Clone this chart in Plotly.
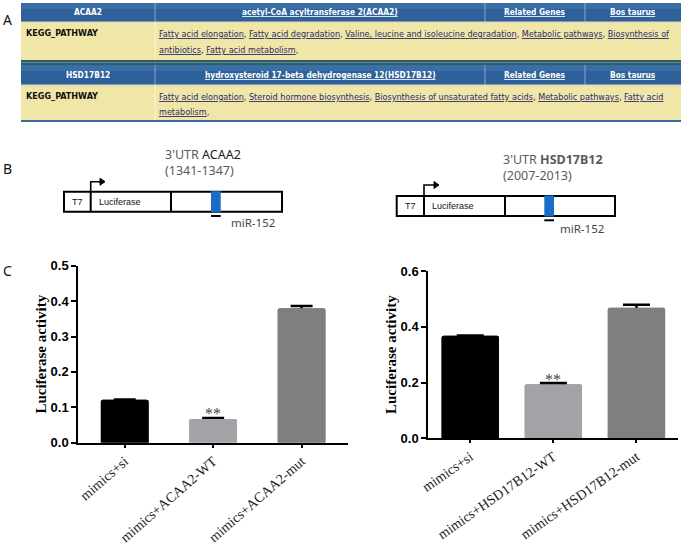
import plotly.graph_objects as go

W, H = 685, 544

# ---------------- data ----------------
acaa2_categories = ["mimics+si", "mimics+ACAA2-WT", "mimics+ACAA2-mut"]
acaa2_values = [0.121, 0.067, 0.380]
acaa2_errors = [0.001, 0.003, 0.006]

hsd_categories = ["mimics+si", "mimics+HSD17B12-WT", "mimics+HSD17B12-mut"]
hsd_values = [0.368, 0.194, 0.468]
hsd_errors = [0.001, 0.004, 0.011]

bar_colors = ["#000000", "#a3a3a7", "#7f7f7f"]
significance_label = "**"
y_title = "Luciferase activity"

gene_symbols = ["ACAA2", "HSD17B12"]
gene_names = ["acetyl-CoA acyltransferase 2(ACAA2)",
              "hydroxysteroid 17-beta dehydrogenase 12(HSD17B12)"]
header_links = ["Related Genes", "Bos taurus"]
row_label = "KEGG_PATHWAY"
acaa2_pathway_lines = [
    ["Fatty acid elongation", "Fatty acid degradation",
     "Valine, leucine and isoleucine degradation", "Metabolic pathways",
     "Biosynthesis of"],
    ["antibiotics", "Fatty acid metabolism"],
]
hsd_pathway_lines = [
    ["Fatty acid elongation", "Steroid hormone biosynthesis",
     "Biosynthesis of unsaturated fatty acids", "Metabolic pathways",
     "Fatty acid"],
    ["metabolism"],
]
utr_genes = ["ACAA2", "HSD17B12"]
utr_sites = ["(1341-1347)", "(2007-2013)"]
construct_parts = ["T7", "Luciferase"]
mirna = "miR-152"
panel_letters = ["A", "B", "C"]


def px(x):
    return x / W


def py(y):
    return 1 - y / H


NARROW = "Liberation Sans Narrow, DejaVu Sans Condensed, Arial Narrow, sans-serif"
SANS = "Noto Sans, Open Sans, sans-serif"
SERIF = "Liberation Serif, Times New Roman, serif"

fig = go.Figure()

# ---------------- bar charts ----------------
for i, (cats, vals, errs, capw) in enumerate([
        (acaa2_categories, acaa2_values, acaa2_errors, 11),
        (hsd_categories, hsd_values, hsd_errors, 13.5)]):
    xa = "x" if i == 0 else "x2"
    ya = "y" if i == 0 else "y2"
    width = 0.54 if i == 0 else 0.69
    fig.add_trace(go.Bar(
        x=cats, y=vals, xaxis=xa, yaxis=ya, width=width,
        marker=dict(color=bar_colors, line=dict(width=0), cornerradius=2),
        error_y=dict(type="data", array=errs, symmetric=True,
                     color="#000000", thickness=2.5, width=capw),
        showlegend=False, hoverinfo="x+y"))
    fig.add_trace(go.Bar(
        x=cats, y=vals, xaxis=xa, yaxis=ya, width=width,
        marker=dict(color=bar_colors, line=dict(width=0), cornerradius=2),
        showlegend=False, hoverinfo="skip"))
    fig.add_annotation(
        x=cats[1], y=vals[1] + errs[1], xref=xa, yref=ya,
        text=significance_label, showarrow=False, yanchor="middle", yshift=4,
        font=dict(family=SERIF, size=16, color="#444444"))

axis_common = dict(showline=True, linecolor="#000000", linewidth=2,
                   ticks="outside", tickcolor="#000000", tickwidth=2,
                   showgrid=False, zeroline=False, automargin=False,
                   fixedrange=True)
xfont = dict(family=SERIF, size=14, color="#222222")
yfont = dict(family="Liberation Sans, Arial, sans-serif", size=13,
             color="#000000", weight="bold")
tfont = dict(family=SERIF, size=15, color="#000000", weight="bold")

fig.update_layout(
    xaxis=dict(domain=[px(78.3), px(348)], anchor="y", type="category",
               range=[-0.525, 2.525], ticklen=3, tickangle=-41,
               tickfont=xfont, **axis_common),
    yaxis=dict(domain=[py(442.7), py(265.7)], anchor="x", range=[0, 0.5],
               tick0=0, dtick=0.1, tickformat=".1f", ticklen=5,
               tickfont=yfont,
               title=dict(text=y_title, standoff=0, font=tfont),
               **axis_common),
    xaxis2=dict(domain=[px(428.3), px(678)], anchor="y2", type="category",
                range=[-0.505, 2.5], ticklen=3, tickangle=-35,
                tickfont=xfont, **axis_common),
    yaxis2=dict(domain=[py(438.3), py(271)], anchor="x2", range=[0, 0.6],
                tick0=0, dtick=0.2, tickformat=".1f", ticklen=5,
                tickfont=yfont,
                title=dict(text=y_title, standoff=0, font=tfont),
                **axis_common),
    barmode="overlay",
)

shapes = []
annos = []


def rect(x0, y0, x1, y1, fill, line_color=None, lw=0):
    shapes.append(dict(type="rect", xref="paper", yref="paper",
                       x0=px(x0), x1=px(x1), y0=py(y0), y1=py(y1),
                       fillcolor=fill, layer="above",
                       line=dict(color=line_color or fill, width=lw)))


def line(x0, y0, x1, y1, color, lw):
    shapes.append(dict(type="line", xref="paper", yref="paper",
                       x0=px(x0), x1=px(x1), y0=py(y0), y1=py(y1),
                       layer="above", line=dict(color=color, width=lw)))


def path(pts, color, lw, fill=None):
    d = "M " + " L ".join(f"{px(x)},{py(y)}" for x, y in pts)
    if fill:
        d += " Z"
    shapes.append(dict(type="path", xref="paper", yref="paper", path=d,
                       layer="above", fillcolor=fill or "rgba(0,0,0,0)",
                       line=dict(color=color, width=lw)))


def text(x, y, s, size, color, family, xanchor="left", yanchor="middle"):
    annos.append(dict(x=px(x), y=py(y), xref="paper", yref="paper", text=s,
                      showarrow=False, xanchor=xanchor, yanchor=yanchor,
                      align=xanchor if xanchor != "center" else "center",
                      font=dict(size=size, color=color, family=family)))


def u(s):
    return f'<span style="text-decoration:underline">{s}</span>'


# ---------------- panel A : tables ----------------
TL, C1, C2, C3, TR = 21, 155, 485, 585, 681
HEAD = "#2e6099"
BODY = "#efe6a8"
LINK = "#2f2a6b"
HFS = 8.3
BFS = 9
blocks = [
    (3, 22, 60, gene_symbols[0], gene_names[0], acaa2_pathway_lines, 16.4),
    (65, 85, 120, gene_symbols[1], gene_names[1], hsd_pathway_lines, 15.0),
]
for (h0, h1, b1, sym, name, lines, lsp) in blocks:
    rect(TL, h0, TR, h1, HEAD)
    rect(TL, h0, TR, h0 + 6, "#3a6ea6")
    rect(TL, h1, TR, b1, BODY)
    for cx in (C1, C2, C3):
        line(cx, h0, cx, h1, "#86a8cf", 1)
    line(C1, h1, C1, b1, "#fbf6dc", 1)
    line(TL, h1, TR, h1, "#d8d6c0", 1)
    hy = (h0 + h1) / 2
    text((TL + C1) / 2, hy, f"<b>{sym}</b>", HFS, "#ffffff", NARROW, "center")
    text((C1 + C2) / 2, hy, f"<b>{u(name)}</b>", HFS, "#ffffff", NARROW, "center")
    text((C2 + C3) / 2, hy, f"<b>{u(header_links[0])}</b>", HFS, "#ffffff",
         NARROW, "center")
    text((C3 + TR) / 2, hy, f"<b>{u(header_links[1])}</b>", HFS, "#ffffff",
         NARROW, "center")
    text(TL + 3, h1 + 11, f"<b>{row_label}</b>", BFS, "#111111", NARROW)
    for k, segs in enumerate(lines):
        s = ", ".join(u(sg) for sg in segs)
        if k == len(lines) - 1:
            s += ","
        text(C1 + 2, h1 + 12 + k * lsp, s, BFS, LINK, NARROW)

# separator between the two tables
rect(TL, 60, TR, 65, "#2c5d69")
rect(TL, 62, TR, 63, "#5f8a92")
# bottom rule
rect(TL, 120, TR, 122, "#3b6b9a")

# ---------------- panel B : constructs ----------------
constructs = [
    dict(x0=64, x1=282, y0=191.7, y1=211.7, t7=90.7, luc=171, s0=211,
         s1=220.7, at=181.7, tip=105, tx=164, ty=162.5, mx=229, my=222,
         lx=97.3, bold=False),
    dict(x0=396.7, x1=615, y0=196, y1=216, t7=424, luc=505, s0=544.3, s1=554,
         at=185, tip=439, tx=501.7, ty=167, mx=557.7, my=229, lx=430,
         bold=True),
]
for c, gene, site in zip(constructs, utr_genes, utr_sites):
    rect(c["x0"], c["y0"], c["x1"], c["y1"], "#ffffff", "#000000", 2)
    line(c["t7"], c["y0"], c["t7"], c["y1"], "#000000", 2)
    line(c["luc"], c["y0"], c["luc"], c["y1"], "#000000", 2)
    rect(c["s0"], c["y0"] - 0.5, c["s1"], c["y1"] + 0.5, "#1b6cc4")
    line(c["s0"], c["y1"] + 4.3, c["s1"], c["y1"] + 4.3, "#000000", 2)
    path([(c["t7"], c["y0"]), (c["t7"], c["at"]), (c["tip"] - 4, c["at"])],
         "#000000", 1.6)
    path([(c["tip"] - 5, c["at"] - 3.5), (c["tip"], c["at"]),
          (c["tip"] - 5, c["at"] + 3.5)], "#000000", 1, fill="#000000")
    ym = (c["y0"] + c["y1"]) / 2
    text((c["x0"] + c["t7"]) / 2, ym, construct_parts[0], 9, "#111111",
         "Liberation Sans, Arial, sans-serif", "center")
    text(c["lx"], ym, construct_parts[1], 9, "#111111",
         "Liberation Sans, Arial, sans-serif")
    g = f"<b>{gene}</b>" if c["bold"] else f"<span style='color:#1a1a1a'>{gene}</span>"
    text(c["tx"] - 1, c["ty"], "3'UTR " + g + "<br>" + site, 12.5, "#5a5a5a",
         SANS)
    text(c["mx"], c["my"], mirna, 11.5, "#444444", SANS)

# ---------------- panel letters ----------------
for letter, (lx, ly) in zip(panel_letters, [(8, 20), (8, 168), (8, 270)]):
    text(lx, ly, letter, 14, "#111111", SANS, "center")

fig.update_layout(
    shapes=shapes, annotations=list(fig.layout.annotations) + annos,
    width=W, height=H, margin=dict(l=0, r=0, t=0, b=0),
    paper_bgcolor="#ffffff", plot_bgcolor="#ffffff",
)

fig.write_html(
    "out.html",
    config={"displayModeBar": False},
    post_script="document.body.style.margin='0px';"
                "document.body.style.overflow='hidden';")
